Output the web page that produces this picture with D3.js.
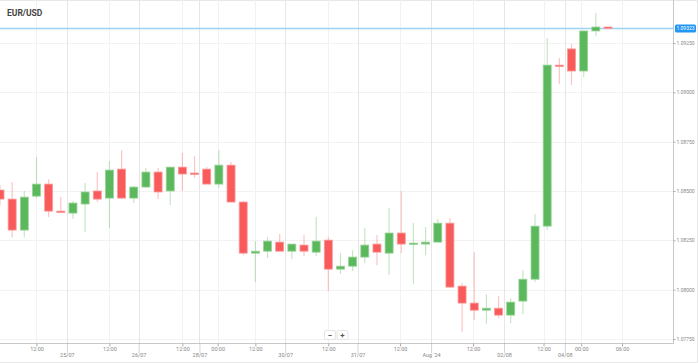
<!DOCTYPE html>
<html>
<head>
<meta charset="utf-8">
<script src="https://cdn.jsdelivr.net/npm/d3@7"></script>
<style>
  body { margin: 0; background: #fff; font-family: Roboto, "Noto Sans", sans-serif; }
</style>
</head>
<body>
<div id="chart"></div>
<script>
var width = 699,
    height = 363;
var plotW = 673, plotH = 343;

var symbol = "EUR/USD";
var lastPrice = 1.09323;

// 4h candles
var opens  = [1.08505, 1.08459, 1.08302, 1.08474, 1.08535, 1.08398, 1.08388, 1.08434, 1.08500, 1.08464,
              1.08611, 1.08464, 1.08520, 1.08596, 1.08500, 1.08621, 1.08591, 1.08611, 1.08535, 1.08631,
              1.08444, 1.08185, 1.08195, 1.08241, 1.08195, 1.08226, 1.08190, 1.08251, 1.08104, 1.08119,
              1.08165, 1.08231, 1.08185, 1.08287, 1.08231, 1.08231, 1.08241, 1.08337, 1.08018, 1.07932,
              1.07896, 1.07906, 1.07871, 1.07942, 1.08053, 1.08322, 1.09138, 1.09220, 1.09108, 1.09311,
              1.09331];
var highs  = [1.08530, 1.08545, 1.08500, 1.08672, 1.08560, 1.08469, 1.08449, 1.08540, 1.08596, 1.08652,
              1.08707, 1.08525, 1.08616, 1.08616, 1.08621, 1.08692, 1.08677, 1.08621, 1.08707, 1.08647,
              1.08449, 1.08246, 1.08266, 1.08282, 1.08231, 1.08277, 1.08368, 1.08266, 1.08185, 1.08200,
              1.08312, 1.08277, 1.08413, 1.08500, 1.08337, 1.08317, 1.08358, 1.08363, 1.08033, 1.08190,
              1.07977, 1.07967, 1.07957, 1.08099, 1.08383, 1.09275, 1.09174, 1.09245, 1.09311, 1.09402,
              1.09331];
var lows   = [1.08429, 1.08266, 1.08266, 1.08464, 1.08368, 1.08388, 1.08358, 1.08292, 1.08444, 1.08312,
              1.08459, 1.08439, 1.08515, 1.08459, 1.08429, 1.08500, 1.08566, 1.08535, 1.08515, 1.08444,
              1.08175, 1.08038, 1.08160, 1.08195, 1.08155, 1.08170, 1.08170, 1.07993, 1.08079, 1.08094,
              1.08135, 1.08124, 1.08074, 1.08185, 1.08028, 1.08175, 1.08241, 1.08008, 1.07785, 1.07846,
              1.07825, 1.07856, 1.07830, 1.07876, 1.08038, 1.08302, 1.09042, 1.09037, 1.09078, 1.09285,
              1.09321];
var closes = [1.08459, 1.08302, 1.08469, 1.08535, 1.08398, 1.08393, 1.08439, 1.08495, 1.08459, 1.08606,
              1.08464, 1.08520, 1.08596, 1.08495, 1.08621, 1.08586, 1.08586, 1.08535, 1.08631, 1.08444,
              1.08185, 1.08195, 1.08246, 1.08195, 1.08231, 1.08195, 1.08246, 1.08104, 1.08119, 1.08165,
              1.08226, 1.08190, 1.08287, 1.08231, 1.08236, 1.08241, 1.08337, 1.08013, 1.07932, 1.07896,
              1.07906, 1.07871, 1.07937, 1.08053, 1.08322, 1.09138, 1.09133, 1.09108, 1.09311, 1.09331,
              1.09323];

var priceTicks = [1.0775, 1.0800, 1.0825, 1.0850, 1.0875, 1.0900, 1.0925];

// positions in candle units
var timeTickPos    = [3, 9, 15, 17.9, 21, 27, 32.9, 38.9, 44.7, 47.8, 51.15];
var timeTickLabels = ["12:00", "12:00", "12:00", "00:00", "12:00", "12:00", "12:00", "12:00", "12:00", "00:00", "06:00"];
var dateTickPos    = [5.5, 11.4, 16.4, 23.45, 29.4, 35.45, 41.45, 46.45];
var dateTickLabels = ["25/07", "26/07", "28/07", "30/07", "31/07", "Aug '24", "02/08", "04/08"];

var upColor = "#5cb85c", downColor = "#f95a5a";

var svg = d3.select("#chart").append("svg")
    .attr("width", width)
    .attr("height", height);

var x = d3.scaleLinear().domain([0, plotW / 12.16]).range([0, plotW]);
var y = d3.scaleLinear().domain([1.0775, 1.0925]).range([339, 43]);

/* frame */
svg.append("path")
    .attr("d", "M0,0.5H697.5V362.5H0")
    .attr("fill", "none")
    .attr("stroke", "#e8e8e8");

/* grid */
svg.append("g").selectAll("line")
  .data(priceTicks)
  .enter().append("line")
    .attr("x1", 0).attr("x2", plotW)
    .attr("y1", function(d){ return Math.round(y(d)) + 0.5; })
    .attr("y2", function(d){ return Math.round(y(d)) + 0.5; })
    .attr("stroke", "#f2f2f2");

svg.append("g").selectAll("line")
  .data(timeTickPos)
  .enter().append("line")
    .attr("x1", function(d){ return Math.round(x(d)) + 0.5; })
    .attr("x2", function(d){ return Math.round(x(d)) + 0.5; })
    .attr("y1", 0).attr("y2", plotH)
    .attr("stroke", "#f2f2f2");

svg.append("g").selectAll("line")
  .data(dateTickPos)
  .enter().append("line")
    .attr("x1", function(d){ return Math.round(x(d)) + 0.5; })
    .attr("x2", function(d){ return Math.round(x(d)) + 0.5; })
    .attr("y1", 0).attr("y2", plotH)
    .attr("stroke", "#e6e6e6");

/* current price line */
svg.append("line")
    .attr("x1", 0).attr("x2", plotW)
    .attr("y1", y(lastPrice)).attr("y2", y(lastPrice))
    .attr("stroke", "#9fd0f5")
    .attr("stroke-width", 1.5);

/* candles */
var candles = d3.range(opens.length).map(function(i){
  return {i: i, o: opens[i], h: highs[i], l: lows[i], c: closes[i]};
});

var g = svg.append("g");
g.selectAll(".wick")
  .data(candles)
  .enter().append("line")
    .attr("class", "wick")
    .attr("x1", function(d){ return x(d.i); })
    .attr("x2", function(d){ return x(d.i); })
    .attr("y1", function(d){ return y(d.h); })
    .attr("y2", function(d){ return y(d.l); })
    .attr("stroke", function(d){ return d.c >= d.o ? upColor : downColor; })
    .attr("stroke-opacity", 0.35)
    .attr("stroke-width", 1.2);

g.selectAll(".body")
  .data(candles)
  .enter().append("rect")
    .attr("class", "body")
    .attr("x", function(d){ return x(d.i) - 4; })
    .attr("width", 8)
    .attr("y", function(d){ return y(Math.max(d.o, d.c)); })
    .attr("height", function(d){ return Math.max(1.5, Math.abs(y(d.o) - y(d.c))); })
    .attr("fill", function(d){ return d.c >= d.o ? upColor : downColor; })
    .attr("stroke", function(d){ return d.c >= d.o ? "#9ad49a" : "#fb9a9a"; })
    .attr("stroke-width", 0.8);

/* axes */
svg.append("line")
    .attr("x1", plotW + 0.5).attr("x2", plotW + 0.5)
    .attr("y1", 0).attr("y2", plotH + 1)
    .attr("stroke", "#c8c8c8");
svg.append("line")
    .attr("x1", 0).attr("x2", plotW + 1)
    .attr("y1", plotH + 0.5).attr("y2", plotH + 0.5)
    .attr("stroke", "#c8c8c8");

var yAxis = svg.append("g")
    .attr("transform", "translate(" + (plotW + 0.5) + ",0)")
    .call(d3.axisRight(y).tickValues(priceTicks).tickSize(2).tickPadding(1).tickFormat(d3.format(".5f")));
yAxis.select(".domain").remove();
yAxis.selectAll("line").attr("stroke", "#aaa");
yAxis.selectAll("text").attr("fill", "#888").style("font-size", "5px").style("font-family", "Roboto, sans-serif");

var tAxis = svg.append("g")
    .attr("transform", "translate(0," + (plotH + 0.5) + ")")
    .call(d3.axisBottom(x).tickValues(timeTickPos).tickSize(3).tickPadding(1)
      .tickFormat(function(d, i){ return timeTickLabels[i]; }));
tAxis.select(".domain").remove();
tAxis.selectAll("line").attr("stroke", "#aaa");
tAxis.selectAll("text").attr("fill", "#888").style("font-size", "5.5px").style("font-family", "Roboto, sans-serif");

var dAxis = svg.append("g")
    .attr("transform", "translate(0," + (plotH + 0.5) + ")")
    .call(d3.axisBottom(x).tickValues(dateTickPos).tickSize(9).tickPadding(1)
      .tickFormat(function(d, i){ return dateTickLabels[i]; }));
dAxis.select(".domain").remove();
dAxis.selectAll("line").attr("stroke", "#aaa").attr("stroke-dasharray", "1,1");
dAxis.selectAll("text").attr("fill", "#888").style("font-size", "5.5px").style("font-family", "Roboto, sans-serif");

/* price label */
var py = y(lastPrice);
svg.append("rect")
    .attr("x", 675).attr("y", py - 4)
    .attr("width", 21).attr("height", 8)
    .attr("rx", 1.5)
    .attr("fill", "#2196f3");
svg.append("text")
    .attr("x", 685.5).attr("y", py + 1.8)
    .attr("text-anchor", "middle")
    .attr("fill", "#fff")
    .style("font-size", "5px")
    .text(d3.format(".5f")(lastPrice));

/* title */
svg.append("text")
    .attr("x", 7).attr("y", 15.5)
    .attr("fill", "#444")
    .style("font-size", "8.5px")
    .style("font-weight", "bold")
    .text(symbol);

/* zoom buttons */
var zoomBtns = svg.append("g").attr("transform", "translate(324,330)");
zoomBtns.selectAll("rect")
  .data(["\u2212", "+"])
  .enter().append("rect")
    .attr("x", function(d, i){ return i * 12.5 + 0.5; })
    .attr("y", 0.5)
    .attr("width", 11).attr("height", 9)
    .attr("rx", 1.5)
    .attr("fill", "#fff")
    .attr("stroke", "#e4e4e4");
zoomBtns.selectAll("text")
  .data(["\u2212", "+"])
  .enter().append("text")
    .attr("x", function(d, i){ return i * 12.5 + 6; })
    .attr("y", 7.5)
    .attr("text-anchor", "middle")
    .attr("fill", "#555")
    .style("font-size", "8px")
    .style("font-weight", "bold")
    .text(function(d){ return d; });
</script>
</body>
</html>
